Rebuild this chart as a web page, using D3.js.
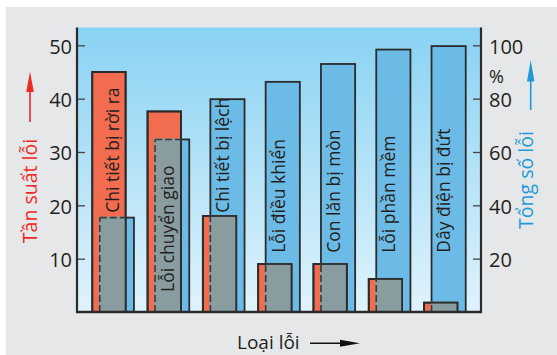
<!DOCTYPE html>
<html>
<head>
<meta charset="utf-8">
<script src="https://cdn.jsdelivr.net/npm/d3@7/dist/d3.min.js"></script>
<style>
  html, body { margin: 0; padding: 0; background: #ffffff; }
  svg { display: block; }
  text { font-family: "Open Sans", "Noto Sans", sans-serif; }
</style>
</head>
<body>
<svg id="chart" width="557" height="355"></svg>
<script>
// ---------- data ----------
const categories = ["Chi tiết bị rời ra", "Lỗi chuyển giao", "Chi tiết bị lệch", "Lỗi điều khiển", "Con lăn bị mòn", "Lỗi phần mềm", "Dây điện bị đứt"];
const frequency = [45, 37.6, 18, 9, 9, 6.2, 1.75];          // left axis: Tần suất lỗi
const cumulative = [35.4, 64.7, 79.8, 86.3, 93, 98.4, 99.7]; // right axis: Tổng số lỗi (%)
const leftTicks = [10, 20, 30, 40, 50];
const rightTicks = [20, 40, 60, 80, 100];
// layout: left-axis value at which each rotated category label starts
const labelAt = [18.6, 3.75, 18.6, 11.1, 11.1, 11.1, 11.1];

// ---------- layout ----------
const svg = d3.select("#chart");
const L = 77, R = 481, T = 27.5, B = 312;
const dark = "#2b2b2b";

const x = d3.scaleBand().domain(categories).range([L, R]).paddingInner(0.246).paddingOuter(0.276);
const yL = d3.scaleLinear().domain([0, 50]).range([B, 45.3]);
const yR = d3.scaleLinear().domain([0, 100]).range([B, 45.3]);
const bw = x.bandwidth();
const redW = bw * 0.8, blueOff = bw * 0.18, blueW = bw * 0.82;

// background panel
svg.append("rect").attr("x", 6).attr("y", 7).attr("width", 551).attr("height", 348).attr("fill", "#e6e7e8");

const defs = svg.append("defs");
const grad = defs.append("linearGradient").attr("id", "bg").attr("x1", 0).attr("y1", 0).attr("x2", 0).attr("y2", 1);
grad.append("stop").attr("offset", "0%").attr("stop-color", "#89d2f3");
grad.append("stop").attr("offset", "100%").attr("stop-color", "#e0f3fc");
svg.append("rect").attr("x", L).attr("y", T).attr("width", R - L).attr("height", B - T).attr("fill", "url(#bg)");

// ---------- bars ----------
const g = svg.append("g");
categories.forEach((c, i) => {
  const rx = x(c), bx = x(c) + blueOff;
  const rTop = yL(frequency[i]), bTop = yR(cumulative[i]);
  const oTop = Math.max(rTop, bTop);
  // blue (cumulative) bar
  g.append("rect").attr("x", bx).attr("y", bTop).attr("width", blueW).attr("height", B - bTop)
    .attr("fill", "#6cbae6").attr("stroke", dark).attr("stroke-width", 1.8);
  // red (frequency) bar
  g.append("rect").attr("x", rx).attr("y", rTop).attr("width", redW).attr("height", B - rTop)
    .attr("fill", "#f26c4f").attr("stroke", dark).attr("stroke-width", 1.8);
  // overlap region
  g.append("rect").attr("x", bx - 1).attr("y", oTop - 1).attr("width", rx + redW - bx + 1).attr("height", B - oTop + 1)
    .attr("fill", "#899c9f");
  // red outline on top
  g.append("rect").attr("x", rx).attr("y", rTop).attr("width", redW).attr("height", B - rTop)
    .attr("fill", "none").attr("stroke", dark).attr("stroke-width", 1.8);
  // hidden blue edges, dashed
  g.append("line").attr("x1", bx).attr("x2", bx).attr("y1", B).attr("y2", oTop)
    .attr("stroke", "#3a3a3a").attr("stroke-width", 1.6).attr("stroke-dasharray", "7,3");
  if (bTop > rTop) {
    g.append("line").attr("x1", bx).attr("x2", rx + redW).attr("y1", bTop).attr("y2", bTop)
      .attr("stroke", "#3a3a3a").attr("stroke-width", 1.6).attr("stroke-dasharray", "7,3");
  }
  // rotated label
  g.append("text")
    .attr("transform", `translate(${rx + bw / 2 + 5.5},${yL(labelAt[i])}) rotate(-90)`)
    .attr("text-anchor", "start").attr("font-size", 17.5).attr("fill", "#231f20")
    .text(c);
});

// ---------- axes ----------
const axL = svg.append("g").attr("transform", `translate(${L},0)`)
  .call(d3.axisLeft(yL).tickValues(leftTicks).tickSize(-8).tickSizeOuter(0).tickPadding(5));
const axR = svg.append("g").attr("transform", `translate(${R},0)`)
  .call(d3.axisRight(yR).tickValues(rightTicks).tickSize(-8).tickSizeOuter(0).tickPadding(8));
[axL, axR].forEach(a => {
  a.select(".domain").remove();
  a.selectAll(".tick line").attr("stroke", "#444").attr("stroke-width", 1.3);
  a.selectAll(".tick text").attr("font-size", 20).attr("fill", "#231f20")
    .attr("font-family", "'Open Sans', sans-serif").attr("dy", "0.4em");
});

svg.append("line").attr("x1", L).attr("x2", L).attr("y1", T).attr("y2", B + 1).attr("stroke", dark).attr("stroke-width", 2.2);
svg.append("line").attr("x1", R).attr("x2", R).attr("y1", T).attr("y2", B + 1).attr("stroke", dark).attr("stroke-width", 2.2);
svg.append("line").attr("x1", L - 1).attr("x2", R + 1).attr("y1", B).attr("y2", B).attr("stroke", dark).attr("stroke-width", 2.4);

// percent sign
svg.append("text").attr("x", 489).attr("y", 82.5).attr("font-size", 18).attr("fill", "#231f20").text("%");

// ---------- titles ----------
const red = "#ee2a24", blue = "#1d9ad6";
svg.append("text").attr("transform", `translate(36.5,191) rotate(-90)`)
  .attr("text-anchor", "middle").attr("font-size", 19.5).attr("fill", red).text("Tần suất lỗi");
svg.append("line").attr("x1", 30).attr("x2", 30).attr("y1", 122).attr("y2", 88).attr("stroke", red).attr("stroke-width", 1.6);
svg.append("path").attr("d", "M30,71.5 L26.2,92 L33.8,92 Z").attr("fill", red);

svg.append("text").attr("transform", `translate(533,180) rotate(-90)`)
  .attr("text-anchor", "middle").attr("font-size", 19.5).attr("fill", blue).text("Tổng số lỗi");
svg.append("line").attr("x1", 530.7).attr("x2", 530.7).attr("y1", 110).attr("y2", 78).attr("stroke", blue).attr("stroke-width", 1.6);
svg.append("path").attr("d", "M530.7,60 L527,81.5 L534.4,81.5 Z").attr("fill", blue);

svg.append("text").attr("x", 237).attr("y", 349)
  .attr("font-size", 19).attr("fill", "#231f20").text("Loại lỗi");
svg.append("line").attr("x1", 310).attr("x2", 344).attr("y1", 343.3).attr("y2", 343.3).attr("stroke", "#111").attr("stroke-width", 1.4);
svg.append("path").attr("d", "M360,343.3 L340,339.8 L340,346.8 Z").attr("fill", "#111");
</script>
</body>
</html>
